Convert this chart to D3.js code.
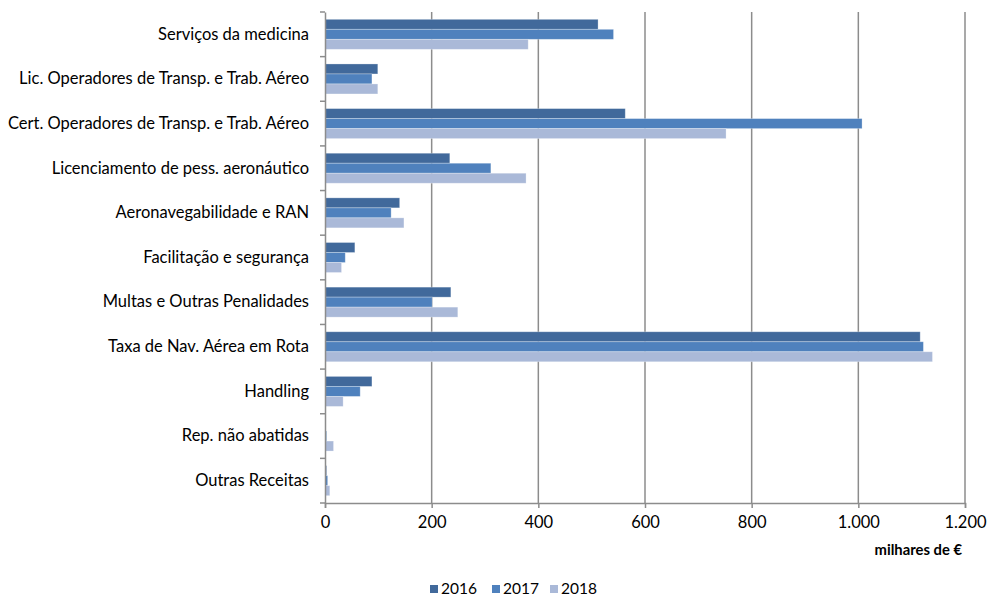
<!DOCTYPE html>
<html>
<head>
<meta charset="utf-8">
<script src="https://cdn.jsdelivr.net/npm/d3@7"></script>
<style>
  body { margin: 0; background: #fff; }
  text { font-family: Lato, "Open Sans", sans-serif; fill: #000; }
</style>
</head>
<body>
<svg id="chart"></svg>
<script>
const categories = ['Serviços da medicina', 'Lic. Operadores de Transp. e Trab. Aéreo', 'Cert. Operadores de Transp. e Trab. Aéreo',
  'Licenciamento de pess. aeronáutico', 'Aeronavegabilidade e RAN', 'Facilitação e segurança', 'Multas e Outras Penalidades',
  'Taxa de Nav. Aérea em Rota', 'Handling', 'Rep. não abatidas', 'Outras Receitas'];
const years = ['2016', '2017', '2018'];
const values2016 = [512, 99, 563, 234, 140, 56, 236, 1116, 88, 1, 3];
const values2017 = [541, 88, 1007, 311, 124, 38, 201, 1122, 66, 3, 5];
const values2018 = [381, 99, 752, 377, 148, 31, 249, 1139, 34, 16, 9];
const xTicks = [0, 200, 400, 600, 800, 1000, 1200];
const colors = ['#41699b', '#4f81bd', '#aab9d8'];

const series = [values2016, values2017, values2018];
const W = 987, H = 598;
const margin = { top: 12, right: 22, bottom: 95, left: 325 };
const width = W - margin.left - margin.right;
const height = H - margin.top - margin.bottom;
const fs = '16.5px';

const svg = d3.select('#chart').attr('width', W).attr('height', H)
  .append('g').attr('transform', `translate(${margin.left},${margin.top})`);

const x = d3.scaleLinear().domain([0, 1200]).range([0, width]);
const y = d3.scaleBand().domain(categories).range([0, height]).paddingInner(0.328).paddingOuter(0.164);
const yInner = d3.scaleBand().domain(years).range([0, y.bandwidth()]);

// vertical gridlines
svg.selectAll('.grid').data(xTicks.slice(1)).join('line')
  .attr('x1', d => x(d)).attr('x2', d => x(d))
  .attr('y1', 0).attr('y2', height)
  .attr('stroke', '#8c8c8c').attr('stroke-width', 1.5);

// bars
categories.forEach((c, i) => {
  const g = svg.append('g').attr('transform', `translate(0,${y(c)})`);
  years.forEach((yr, j) => {
    g.append('rect')
      .attr('x', x(0))
      .attr('y', yInner(yr))
      .attr('width', x(series[j][i]) - x(0))
      .attr('height', yInner.bandwidth())
      .attr('fill', colors[j])
      .attr('stroke', 'rgba(255,255,255,0.35)')
      .attr('stroke-width', 0.8);
  });
});

// bottom axis
const xAxis = svg.append('g').attr('transform', `translate(0,${height})`)
  .call(d3.axisBottom(x).tickValues(xTicks).tickSize(5).tickPadding(8)
    .tickFormat(d => d3.format(',')(d).replace(/,/g, '.')));
xAxis.select('.domain').attr('stroke', '#8c8c8c').attr('stroke-width', 1.5);
xAxis.selectAll('.tick line').attr('stroke', '#8c8c8c').attr('stroke-width', 1.5);
xAxis.selectAll('.tick text').style('font-size', fs).style('font-family', 'Lato, sans-serif');

// left axis
const yAxis = svg.append('g')
  .call(d3.axisLeft(y).tickSize(0).tickPadding(16));
yAxis.select('.domain').attr('stroke', '#8c8c8c').attr('stroke-width', 1.5);
yAxis.selectAll('.tick text').style('font-size', fs).style('font-family', 'Lato, sans-serif');

const bounds = categories.map(c => y(c) - y.step() * y.paddingInner() / 2).concat([height]);
svg.selectAll('.ytick').data(bounds).join('line')
  .attr('x1', -5).attr('x2', 0)
  .attr('y1', d => d).attr('y2', d => d)
  .attr('stroke', '#8c8c8c').attr('stroke-width', 1.5);

// axis title
svg.append('text')
  .attr('x', width - 3).attr('y', height + 52)
  .attr('text-anchor', 'end')
  .style('font-size', '14.8px').style('font-weight', 'bold')
  .text('milhares de €');

// legend
const legend = svg.append('g').attr('transform', `translate(${430 - margin.left},${589 - margin.top})`);
const legendX = [0, 62, 120];
years.forEach((yr, j) => {
  legend.append('rect').attr('x', legendX[j]).attr('y', -4).attr('width', 8).attr('height', 8).attr('fill', colors[j]);
  legend.append('text').attr('x', legendX[j] + 11).attr('y', 5)
    .style('font-size', '15.5px').text(yr);
});
</script>
</body>
</html>
